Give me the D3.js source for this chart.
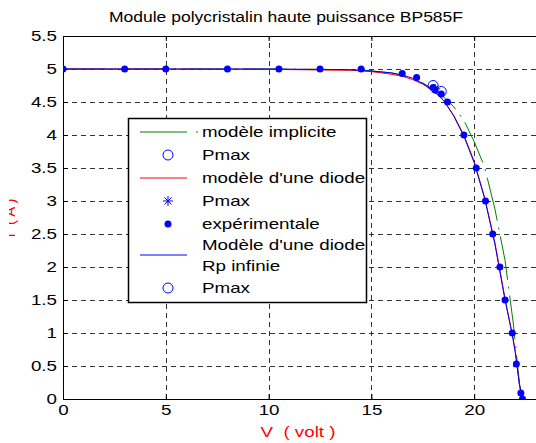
<!DOCTYPE html>
<html>
<head>
<meta charset="utf-8">
<script src="https://cdn.jsdelivr.net/npm/d3@7"></script>
<style>
  body { margin: 0; background: #fff; }
  svg { display: block; }
  text { font-family: Arial, "Liberation Sans", sans-serif; fill: #000; }
</style>
</head>
<body>
<div id="chart"></div>
<script>
// experimental measurements (V, I)
const expV = [0, 3, 5, 8, 10.5, 12.5, 14.5, 16.5, 17.2, 18.0, 18.1, 18.4, 18.7, 19.5, 20.1, 20.55, 20.9, 21.25, 21.5, 21.85, 22.05, 22.27, 22.35];
const expI = [5, 5, 5, 5, 5, 5, 5, 4.93, 4.87, 4.72, 4.68, 4.62, 4.5, 4.0, 3.5, 3.0, 2.5, 2.0, 1.5, 1.0, 0.53, 0.09, 0.0];

// modèle implicite (green)
const implV = [0, 5, 10, 14, 15, 16, 17, 17.5, 18, 18.5, 19, 19.5, 20, 20.5, 21, 21.5, 21.9, 22.2, 22.3];
const implI = [5, 5, 5, 4.99, 4.97, 4.94, 4.86, 4.79, 4.69, 4.58, 4.43, 4.22, 3.9, 3.52, 2.89, 2.1, 1.15, 0.24, 0];

// modèle d'une diode (red)
const diodeV = [0, 5, 10, 14, 15, 16, 16.5, 17, 17.5, 18, 18.5, 19, 19.5, 20, 20.5, 21, 21.5, 21.85, 22, 22.2, 22.35];
const diodeI = [5, 5, 4.995, 4.98, 4.96, 4.92, 4.89, 4.84, 4.77, 4.67, 4.53, 4.3, 4.0, 3.6, 3.06, 2.38, 1.52, 0.98, 0.72, 0.22, 0];

// modèle d'une diode, Rp infinie (blue)
const rpV = [0, 5, 10, 14, 15, 16, 16.5, 17, 17.5, 18, 18.5, 19, 19.5, 20, 20.5, 21, 21.5, 21.85, 22, 22.2, 22.35];
const rpI = [5, 5, 5, 4.99, 4.97, 4.94, 4.91, 4.86, 4.78, 4.68, 4.53, 4.29, 3.98, 3.58, 3.05, 2.36, 1.5, 0.98, 0.7, 0.22, 0];

// Pmax points
const pmaxImpl = [18.0, 4.75];
const pmaxDiode = [18.1, 4.7];
const pmaxRp = [18.4, 4.66];

const xTicks = [0, 5, 10, 15, 20];
const yTicks = [0, 0.5, 1, 1.5, 2, 2.5, 3, 3.5, 4, 4.5, 5, 5.5];

const W = 536, H = 443;
const x = d3.scaleLinear().domain([0, 25]).range([63, 577]);
const y = d3.scaleLinear().domain([0, 5.5]).range([399, 36]);

const svg = d3.select("#chart").append("svg")
    .attr("width", W).attr("height", H);
svg.append("rect").attr("width", W).attr("height", H).attr("fill", "#fff");

svg.append("clipPath").attr("id", "plot")
  .append("rect")
    .attr("x", x(0)).attr("y", y(5.5))
    .attr("width", x(25) - x(0)).attr("height", y(0) - y(5.5));
// the y label is cut by the left edge of the figure
svg.append("clipPath").attr("id", "ylab")
  .append("rect").attr("x", 9).attr("y", 0).attr("width", 40).attr("height", H);

// grid
const grid = svg.append("g")
    .attr("stroke", "#333").attr("stroke-width", 1)
    .attr("stroke-dasharray", "5,4");
grid.selectAll(".gy").data(yTicks.slice(1, -1)).enter().append("line")
    .attr("x1", x(0)).attr("x2", x(25))
    .attr("y1", d => Math.round(y(d)) + 0.5).attr("y2", d => Math.round(y(d)) + 0.5);
grid.selectAll(".gx").data(xTicks.slice(1)).enter().append("line")
    .attr("y1", y(0)).attr("y2", y(5.5))
    .attr("x1", d => Math.round(x(d)) + 0.5).attr("x2", d => Math.round(x(d)) + 0.5);

// axes
const fs = "15px";
const bottom = svg.append("g")
    .attr("transform", `translate(0,${y(0)})`)
    .call(d3.axisBottom(x).tickValues(xTicks).tickSize(-5).tickSizeOuter(0).tickPadding(5));
const left = svg.append("g")
    .attr("transform", `translate(${x(0)},0)`)
    .call(d3.axisLeft(y).tickValues(yTicks).tickFormat(d3.format("")).tickSize(-5).tickSizeOuter(0).tickPadding(6));
svg.append("g")
    .attr("transform", `translate(0,${y(5.5)})`)
    .call(d3.axisTop(x).tickValues(xTicks).tickSize(-5).tickSizeOuter(0).tickFormat(""));
[bottom, left].forEach(g => {
  g.select(".domain").attr("stroke", "#000");
  g.selectAll("text").style("font-size", fs).attr("fill", "#000");
});

// lines
const line = d3.line().x(d => x(d[0])).y(d => y(d[1]));
const plot = svg.append("g").attr("clip-path", "url(#plot)");
plot.append("path")
    .attr("d", line(d3.zip(implV, implI)))
    .attr("fill", "none").attr("stroke", "#008000").attr("stroke-width", 1)
    .attr("stroke-dasharray", "44,7,2,7");
plot.append("path")
    .attr("d", line(d3.zip(diodeV, diodeI)))
    .attr("fill", "none").attr("stroke", "#ff0000").attr("stroke-width", 1);
plot.append("path")
    .attr("d", line(d3.zip(rpV, rpI)))
    .attr("fill", "none").attr("stroke", "#0000ff").attr("stroke-width", 1);

plot.selectAll(".dot").data(d3.zip(expV, expI)).enter().append("circle")
    .attr("cx", d => x(d[0])).attr("cy", d => y(d[1]))
    .attr("r", 3.5).attr("fill", "#0000ff");

function ring(g, cx, cy) {
  g.append("circle").attr("cx", cx).attr("cy", cy).attr("r", 5)
    .attr("fill", "none").attr("stroke", "#0000ff").attr("stroke-width", 1);
}
function star(g, cx, cy) {
  const s = g.append("g").attr("stroke", "#0000ff").attr("stroke-width", 1);
  [[-5, 0, 5, 0], [0, -5, 0, 5], [-3.5, -3.5, 3.5, 3.5], [-3.5, 3.5, 3.5, -3.5]].forEach(l =>
    s.append("line").attr("x1", cx + l[0]).attr("y1", cy + l[1]).attr("x2", cx + l[2]).attr("y2", cy + l[3]));
}
ring(plot, x(pmaxImpl[0]), y(pmaxImpl[1]));
star(plot, x(pmaxDiode[0]), y(pmaxDiode[1]));
ring(plot, x(pmaxRp[0]), y(pmaxRp[1]));

// box
svg.append("line").attr("x1", x(0)).attr("x2", x(25))
    .attr("y1", Math.round(y(5.5)) + 0.5).attr("y2", Math.round(y(5.5)) + 0.5)
    .attr("stroke", "#000");

// legend
const lg = svg.append("g");
lg.append("rect").attr("x", 128.5).attr("y", 118.5).attr("width", 238).attr("height", 184)
    .attr("fill", "#fff").attr("stroke", "#000").attr("stroke-width", 1.5);
const lx1 = 140, lx2 = 187, mx = 168, tx = 202;
const legendRows = [
  { kind: "line", color: "#008000", dash: "47,9,2,9", y: 132, text: ["modèle implicite"] },
  { kind: "ring", y: 155, text: ["Pmax"] },
  { kind: "line", color: "#ff0000", y: 178, text: ["modèle d'une diode"] },
  { kind: "star", y: 201, text: ["Pmax"] },
  { kind: "dot", y: 224, text: ["expérimentale"] },
  { kind: "line", color: "#0000ff", y: 255, text: ["Modèle d'une diode", "Rp infinie"] },
  { kind: "ring", y: 288, text: ["Pmax"] }
];
legendRows.forEach(r => {
  if (r.kind === "line") {
    lg.append("line").attr("x1", lx1).attr("x2", r.dash ? 198 : lx2)
      .attr("y1", r.y).attr("y2", r.y)
      .attr("stroke", r.color).attr("stroke-dasharray", r.dash || null);
  } else if (r.kind === "ring") ring(lg, mx, r.y);
  else if (r.kind === "star") star(lg, mx, r.y);
  else lg.append("circle").attr("cx", mx).attr("cy", r.y).attr("r", 3.5).attr("fill", "#0000ff");
  const n = r.text.length;
  r.text.forEach((t, i) => {
    lg.append("text").attr("x", tx).attr("y", r.y + 5 + (i - (n - 1) / 2) * 21)
      .style("font-size", fs).text(t);
  });
});

// title and labels
svg.append("text").attr("x", 286).attr("y", 22).attr("text-anchor", "middle")
    .style("font-size", "14px").text("Module polycristalin haute puissance BP585F");
svg.append("text").attr("x", 298).attr("y", 437).attr("text-anchor", "middle")
    .style("font-size", fs).attr("fill", "#ff0000").style("fill", "#ff0000")
    .attr("xml:space", "preserve").text("V  ( volt )");
svg.append("g").attr("clip-path", "url(#ylab)")
  .append("text").attr("transform", "translate(15,218) rotate(-90)")
    .attr("text-anchor", "middle").style("font-size", fs).style("fill", "#ff0000")
    .attr("xml:space", "preserve").text("I  ( A )");

// the figure is stretched horizontally
svg.selectAll("text").each(function () {
  const w = this.getComputedTextLength();
  if (w > 0 && !this.getAttribute("transform")) {
    d3.select(this).attr("textLength", w * 1.25).attr("lengthAdjust", "spacingAndGlyphs");
  }
});
</script>
</body>
</html>
